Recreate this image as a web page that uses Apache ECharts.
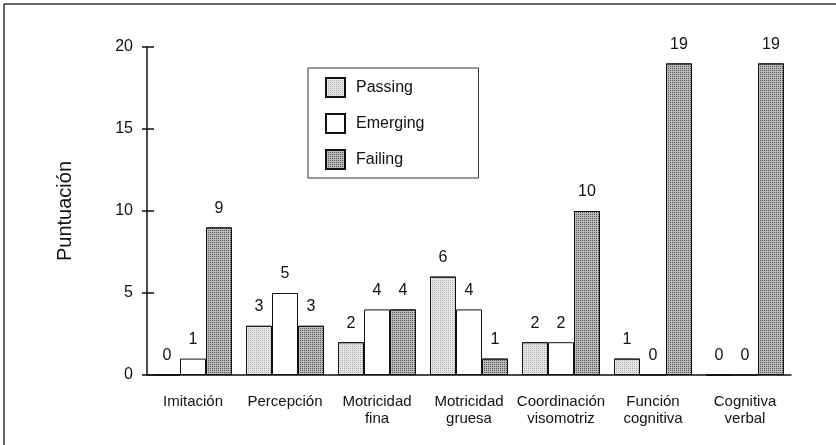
<!DOCTYPE html>
<html>
<head>
<meta charset="utf-8">
<style>
  html, body { margin: 0; padding: 0; background: #fff; }
  #chart { width: 836px; height: 445px; }
</style>
<script src="https://cdn.jsdelivr.net/npm/echarts@6/dist/echarts.min.js"></script>
</head>
<body>
<div id="chart"></div>
<script>
  var categories = ['Imitación', 'Percepción', 'Motricidad\nfina', 'Motricidad\ngruesa',
    'Coordinación\nvisomotriz', 'Función\ncognitiva', 'Cognitiva\nverbal']
  var passing = [0, 3, 2, 6, 2, 1, 0]
  var emerging = [1, 5, 4, 4, 2, 0, 0]
  var failing = [9, 3, 4, 1, 10, 19, 19]
  var yTicks = { min: 0, max: 20, interval: 5 }

  var font = 'Liberation Sans, Arial, Helvetica, sans-serif'
  var ink = '#111'

  // stipple look of the printed bars
  function stipple (dot) {
    return { symbol: 'rect', symbolSize: 1, color: dot, dashArrayX: [1, 1], dashArrayY: [1, 1], rotation: 0 }
  }

  function barSeries (name, data, fill, dot) {
    var style = { color: fill, borderColor: ink, borderWidth: 1 }
    if (dot) style.decal = stipple(dot)
    return {
      name: name,
      type: 'bar',
      data: data,
      barWidth: 26,
      barGap: '0%',
      itemStyle: style,
      label: {
        show: true,
        position: 'top',
        distance: 11,
        color: ink,
        fontSize: 16,
        fontFamily: font
      }
    }
  }

  var chart = echarts.init(document.getElementById('chart'))
  chart.setOption({
    animation: false,
    backgroundColor: '#fff',
    textStyle: { fontFamily: font, color: ink },
    graphic: [
      { type: 'line', shape: { x1: 4, y1: 4, x2: 836, y2: 4 }, style: { stroke: '#333', lineWidth: 1.5 } },
      { type: 'line', shape: { x1: 4, y1: 4, x2: 4, y2: 445 }, style: { stroke: '#333', lineWidth: 1.5 } }
    ],
    legend: {
      orient: 'vertical',
      left: 308,
      top: 68,
      padding: [9, 54, 8, 17],
      itemGap: 15,
      itemWidth: 19,
      itemHeight: 19,
      borderColor: '#333',
      borderWidth: 1,
      icon: 'rect',
      textStyle: { fontSize: 16, color: ink, fontFamily: font, padding: [0, 0, 0, 6] },
      data: ['Passing', 'Emerging', 'Failing']
    },
    grid: { left: 147, right: 45, top: 47, bottom: 70 },
    xAxis: [
      {
        type: 'category',
        data: categories,
        axisLine: { lineStyle: { color: ink, width: 1.5 } },
        axisTick: { length: 7, lineStyle: { color: ink, width: 1.5 } },
        axisLabel: { color: ink, fontSize: 15, lineHeight: 17, margin: 18, interval: 0 }
      },
      {
        type: 'category',
        data: categories,
        position: 'bottom',
        axisLine: { show: false },
        axisTick: { inside: true, length: 5, lineStyle: { color: ink, width: 1.5 } },
        axisLabel: { show: false }
      }
    ],
    yAxis: [
      {
        type: 'value',
        min: yTicks.min,
        max: yTicks.max,
        interval: yTicks.interval,
        name: 'Puntuación',
        nameLocation: 'middle',
        nameGap: 72,
        nameTextStyle: { fontSize: 20, color: ink },
        axisLine: { show: true, lineStyle: { color: ink, width: 1.5 } },
        axisTick: { show: true, length: 5, lineStyle: { color: ink, width: 1.5 } },
        axisLabel: { color: ink, fontSize: 16, margin: 14 },
        splitLine: { show: false }
      },
      {
        type: 'value',
        min: yTicks.min,
        max: yTicks.max,
        interval: yTicks.interval,
        position: 'left',
        axisLine: { show: false },
        axisTick: { show: true, inside: true, length: 7, lineStyle: { color: ink, width: 1.5 } },
        axisLabel: { show: false },
        splitLine: { show: false }
      }
    ],
    series: [
      barSeries('Passing', passing, '#e8e8e8', '#aaaaaa'),
      barSeries('Emerging', emerging, '#ffffff', null),
      barSeries('Failing', failing, '#bbbbbb', '#555555')
    ]
  })
</script>
</body>
</html>
